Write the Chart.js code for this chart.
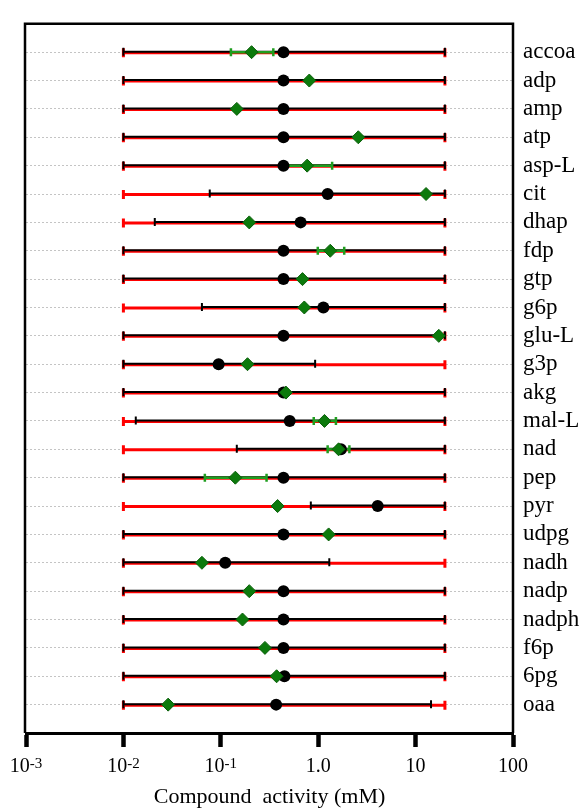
<!DOCTYPE html>
<html><head><meta charset="utf-8">
<script src="https://cdn.jsdelivr.net/npm/chart.js@4.4.1/dist/chart.umd.min.js"></script>
<style>html,body{margin:0;padding:0;background:#fff}</style>
</head><body>
<canvas id="c" width="583" height="808"></canvas>
<script>
const categories = ['accoa','adp','amp','atp','asp-L','cit','dhap','fdp','gtp','g6p','glu-L','g3p','akg','mal-L','nad','pep','pyr','udpg','nadh','nadp','nadph','f6p','6pg','oaa'];
const priorLow  = [0.01,0.01,0.01,0.01,0.01,0.01,0.01,0.01,0.01,0.01,0.01,0.01,0.01,0.01,0.01,0.01,0.01,0.01,0.01,0.01,0.01,0.01,0.01,0.01];
const priorHigh = [20,20,20,20,20,20,20,20,20,20,20,20,20,20,20,20,20,20,20,20,20,20,20,20];
const postLow   = [0.01,0.01,0.01,0.01,0.01,0.077,0.021,0.01,0.01,0.064,0.01,0.01,0.01,0.0134,0.146,0.01,0.84,0.01,0.01,0.01,0.01,0.01,0.01,0.01];
const postHigh  = [20,20,20,20,20,20,20,20,20,20,20,0.93,20,20,20,20,20,20,1.30,20,20,20,20,14.4];
const postValue = [0.44,0.44,0.44,0.44,0.44,1.25,0.66,0.44,0.44,1.13,0.44,0.095,0.44,0.51,1.71,0.44,4.08,0.44,0.111,0.44,0.44,0.44,0.45,0.37];
const measValue = [0.207,0.81,0.146,2.58,0.77,12.8,0.196,1.33,0.69,0.72,17.3,0.188,0.466,1.16,1.62,0.141,0.383,1.28,0.064,0.196,0.167,0.284,0.374,0.0288];
const measLow   = [0.127,null,null,null,0.44,null,null,0.99,null,null,null,null,null,0.90,1.25,0.0686,null,null,null,null,null,null,null,null];
const measHigh  = [0.346,null,null,null,1.39,null,null,1.85,null,null,null,null,null,1.52,2.09,0.295,null,null,null,null,null,null,null,null];
const tickValues = [0.001,0.01,0.1,1,10,100];
const tickBases = ['10','10','10','1.0','10','100'];
const tickExponents = ['-3','-2','-1','','',''];
const axisTitle = 'Compound  activity (mM)';

const RED = '#ff0000', BLACK = '#000000', GREEN_BAR = '#1f9e1f', GREEN_PT = '#0c7a0c';
const SERIF = '"Liberation Serif", "Times New Roman", serif';

const rangePlugin = {
  id: 'ranges',
  beforeDatasetsDraw(chart) {
    const {ctx, scales: {x, y}} = chart;
    ctx.save();
    ctx.lineCap = 'butt';
    const bar = (lo, hi, yp, color, w, capH, capW) => {
      const x1 = x.getPixelForValue(lo), x2 = x.getPixelForValue(hi);
      ctx.strokeStyle = color;
      ctx.lineWidth = w;
      ctx.beginPath(); ctx.moveTo(x1, yp); ctx.lineTo(x2, yp); ctx.stroke();
      ctx.lineWidth = capW;
      ctx.beginPath();
      ctx.moveTo(x1, yp - capH / 2); ctx.lineTo(x1, yp + capH / 2);
      ctx.moveTo(x2, yp - capH / 2); ctx.lineTo(x2, yp + capH / 2);
      ctx.stroke();
    };
    categories.forEach((c, i) => {
      const yp = y.getPixelForValue(i);
      bar(priorLow[i], priorHigh[i], yp + 0.5, RED, 3, 9, 3);
      bar(postLow[i], postHigh[i], yp - 0.5, BLACK, 2, 8, 2);
      if (measLow[i] != null) bar(measLow[i], measHigh[i], yp, GREEN_BAR, 2.5, 8, 2.5);
    });
    ctx.restore();
  },
  afterDraw(chart) {
    const {ctx, chartArea: a, scales: {x}} = chart;
    ctx.save();
    ctx.strokeStyle = '#000';
    ctx.lineWidth = 2.5;
    ctx.beginPath();
    ctx.moveTo(a.left - 1, a.bottom);
    ctx.lineTo(a.left - 1, a.top);
    ctx.lineTo(a.right, a.top);
    ctx.lineTo(a.right, a.bottom);
    ctx.stroke();
    // x tick labels with superscript exponents
    ctx.fillStyle = '#000';
    ctx.textBaseline = 'alphabetic';
    ctx.textAlign = 'left';
    const baseY = a.bottom + 39, expY = a.bottom + 35;
    tickValues.forEach((v, i) => {
      const px = x.getPixelForValue(v);
      ctx.font = '20px ' + SERIF;
      const wb = ctx.measureText(tickBases[i]).width;
      ctx.font = '15px ' + SERIF;
      const we = tickExponents[i] ? ctx.measureText(tickExponents[i]).width : 0;
      const x0 = px - (wb + we) / 2;
      ctx.font = '20px ' + SERIF;
      ctx.fillText(tickBases[i], x0, baseY);
      if (tickExponents[i]) {
        ctx.font = '15px ' + SERIF;
        ctx.fillText(tickExponents[i], x0 + wb, expY);
      }
    });
    ctx.restore();
  }
};

new Chart(document.getElementById('c'), {
  type: 'scatter',
  data: {
    datasets: [
      {
        label: 'measured',
        data: measValue.map((v, i) => ({x: v, y: i})),
        pointStyle: 'rectRot',
        pointRadius: 6.5,
        backgroundColor: GREEN_PT,
        borderColor: '#0a5f0a',
        borderWidth: 1,
        order: 0
      },
      {
        label: 'estimated',
        data: postValue.map((v, i) => ({x: v, y: i})),
        pointStyle: 'circle',
        pointRadius: 6,
        backgroundColor: BLACK,
        borderColor: BLACK,
        borderWidth: 0,
        order: 1
      }
    ]
  },
  options: {
    responsive: false,
    animation: false,
    events: [],
    layout: {padding: {left: 26, top: 14, right: 0, bottom: 0}},
    plugins: {legend: {display: false}, tooltip: {enabled: false}, title: {display: false}},
    scales: {
      x: {
        type: 'logarithmic',
        position: 'bottom',
        min: 0.001, max: 100,
        afterBuildTicks: s => { s.ticks = tickValues.map(v => ({value: v})); },
        afterFit: s => { s.height = 75; },
        ticks: {display: false},
        grid: {drawOnChartArea: false, drawTicks: true, tickLength: 14, tickWidth: 4.5, tickColor: '#000'},
        border: {display: true, color: '#000', width: 3},
        title: {
          display: true, text: axisTitle, color: '#000',
          font: {family: SERIF, size: 22, lineHeight: 1},
          padding: {top: 0, bottom: 0}
        }
      },
      y: {
        type: 'linear',
        position: 'right',
        reverse: true,
        min: -1, max: 24,
        afterBuildTicks: s => { s.ticks = categories.map((c, i) => ({value: i})); },
        afterFit: s => { s.width = 70; },
        ticks: {
          autoSkip: false, padding: 10, color: '#000',
          font: {family: SERIF, size: 23},
          callback: (v) => categories[v]
        },
        grid: {drawTicks: false, color: '#c4c4c4', lineWidth: 1},
        border: {display: false, dash: [2, 2]}
      }
    }
  },
  plugins: [rangePlugin]
});
</script>
</body></html>
